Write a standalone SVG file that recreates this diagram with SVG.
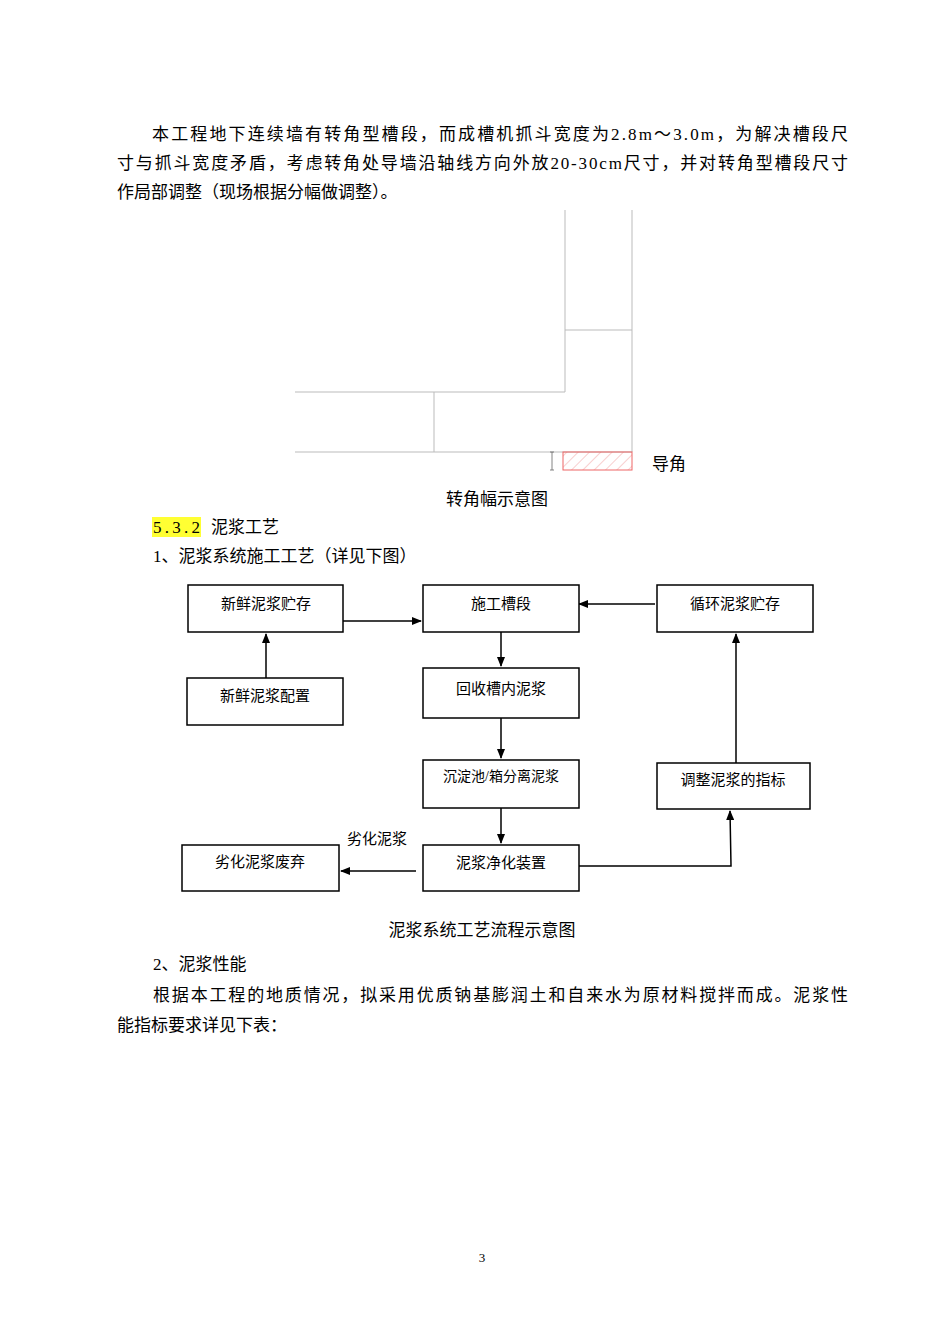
<svg xmlns="http://www.w3.org/2000/svg" width="950" height="1344" viewBox="0 0 950 1344">
<style>
text{font-family:"Liberation Serif","Noto Sans CJK SC",serif;fill:#000}
.b{font-size:17px}
.n{font-size:15px;text-anchor:middle}
.box{fill:#fff;stroke:#000;stroke-width:1.5}
.g{stroke:#bbb;stroke-width:1;fill:none}
.c{stroke:#000;stroke-width:1.5;fill:none}
</style>
<defs>
<marker id="a" markerWidth="10" markerHeight="8" refX="9" refY="4" orient="auto" markerUnits="userSpaceOnUse"><path d="M0,0L10,4L0,8z" fill="#000"/></marker>
<pattern id="h" width="8" height="8" patternUnits="userSpaceOnUse" patternTransform="rotate(45)"><line x1="0" y1="0" x2="0" y2="8" stroke="#e88" stroke-width="0.8"/></pattern>
</defs>
<rect width="950" height="1344" fill="#fff"/>
<text class="b" x="152" y="140" textLength="696" lengthAdjust="spacing">本工程地下连续墙有转角型槽段，而成槽机抓斗宽度为2.8m～3.0m，为解决槽段尺</text>
<text class="b" x="117" y="169" textLength="731" lengthAdjust="spacing">寸与抓斗宽度矛盾，考虑转角处导墙沿轴线方向外放20-30cm尺寸，并对转角型槽段尺寸</text>
<text class="b" x="117" y="198">作局部调整（现场根据分幅做调整）。</text>
<g id="corner">
<path class="g" d="M565,210V392H295M632,210V452M565,330H632M434,392V452M295,452H632"/>
<rect x="563" y="452" width="69" height="18" fill="url(#h)" stroke="#e66" stroke-width="1"/>
<path d="M552,452V470M550,452H554M550,470H554" stroke="#666" stroke-width="0.8"/>
<text x="652" y="470" style="font-size:17px">导角</text>
<text x="497" y="505" class="n" style="font-size:17px">转角幅示意图</text>
</g>
<rect x="152" y="517" width="49" height="20" fill="#ff3"/>
<text class="b" x="153" y="533"><tspan textLength="47" lengthAdjust="spacing">5.3.2</tspan><tspan x="211">泥浆工艺</tspan></text>
<text class="b" x="153" y="562">1、泥浆系统施工工艺（详见下图）</text>
<g id="connectors">
<path class="c" d="M343,621H421" marker-end="url(#a)"/>
<path class="c" d="M655,604H579" marker-end="url(#a)"/>
<path class="c" d="M266,678V634" marker-end="url(#a)"/>
<path class="c" d="M501,632V666" marker-end="url(#a)"/>
<path class="c" d="M501,718V758" marker-end="url(#a)"/>
<path class="c" d="M501,808V843" marker-end="url(#a)"/>
<path class="c" d="M416,871H341" marker-end="url(#a)"/>
<path class="c" d="M579,866H731L730,811" marker-end="url(#a)"/>
<path class="c" d="M736,763V634" marker-end="url(#a)"/>
<text x="377" y="844" class="n">劣化泥浆</text>
</g>
<g id="n1"><rect class="box" x="188" y="585" width="155" height="47"/><text class="n" x="266" y="609">新鲜泥浆贮存</text></g>
<g id="n2"><rect class="box" x="423" y="585" width="156" height="47"/><text class="n" x="501" y="609">施工槽段</text></g>
<g id="n3"><rect class="box" x="657" y="585" width="156" height="47"/><text class="n" x="735" y="609">循环泥浆贮存</text></g>
<g id="n4"><rect class="box" x="187" y="678" width="156" height="47"/><text class="n" x="265" y="701">新鲜泥浆配置</text></g>
<g id="n5"><rect class="box" x="423" y="668" width="156" height="50"/><text class="n" x="501" y="694">回收槽内泥浆</text></g>
<g id="n6"><rect class="box" x="423" y="760" width="156" height="48"/><text class="n" x="501" y="781" style="font-size:14px">沉淀池/箱分离泥浆</text></g>
<g id="n7"><rect class="box" x="657" y="763" width="153" height="46"/><text class="n" x="733" y="785">调整泥浆的指标</text></g>
<g id="n8"><rect class="box" x="182" y="845" width="157" height="46"/><text class="n" x="260" y="867">劣化泥浆废弃</text></g>
<g id="n9"><rect class="box" x="423" y="845" width="156" height="46"/><text class="n" x="501" y="868">泥浆净化装置</text></g>
<text x="482" y="936" class="n" style="font-size:17px">泥浆系统工艺流程示意图</text>
<text class="b" x="153" y="970">2、泥浆性能</text>
<text class="b" x="153" y="1001" textLength="695" lengthAdjust="spacing">根据本工程的地质情况，拟采用优质钠基膨润土和自来水为原材料搅拌而成。泥浆性</text>
<text class="b" x="117" y="1031">能指标要求详见下表：</text>
<text x="482" y="1262" class="n" style="font-size:13px">3</text>
</svg>
